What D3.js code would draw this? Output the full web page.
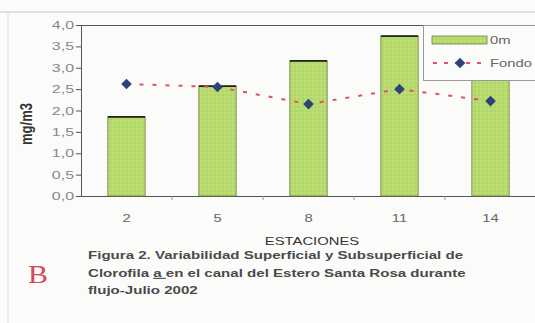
<!DOCTYPE html>
<html>
<head>
<meta charset="utf-8">
<script src="https://cdn.jsdelivr.net/npm/d3@7"></script>
<style>
  html, body { margin: 0; padding: 0; background: #fbfbf9; }
  svg { display: block; }
</style>
</head>
<body>
<svg id="chart" width="535" height="323"></svg>
<script>
// Stations sampled along the channel
const estaciones = ["2", "5", "8", "11", "14"];
// Chlorophyll a at the surface (0 m), mg/m3
const superficie = [1.85, 2.57, 3.16, 3.74, 2.75];
// Chlorophyll a near the bottom, mg/m3
const fondo = [2.62, 2.55, 2.15, 2.50, 2.22];
// Y axis ticks
const yTicks = [0, 0.5, 1, 1.5, 2, 2.5, 3, 3.5, 4];

const svg = d3.select("#chart");
const plotLeft = 81, plotRight = 536, plotTop = 25, plotBottom = 196;
const font = "Liberation Sans, Arial, sans-serif";
const wide = 1.35; // horizontal text stretch of the printed figure

// Figure frame lines
svg.append("line").attr("x1", 0).attr("x2", 535).attr("y1", 12).attr("y2", 12)
  .attr("stroke", "#c8c8c8").attr("stroke-width", 1);
svg.append("line").attr("x1", 8).attr("x2", 8).attr("y1", 12).attr("y2", 323)
  .attr("stroke", "#e0e0e0").attr("stroke-width", 1);

const x = d3.scaleBand().domain(estaciones).range([plotLeft, plotRight]).paddingInner(0.59).paddingOuter(0.295);
const xo = d3.scaleBand().domain(estaciones).range([plotLeft, plotRight]);
const y = d3.scaleLinear().domain([0, 4]).range([plotBottom, plotTop]);

const fmt = v => d3.format(".1f")(v).replace(".", ",");

// Plot top border
svg.append("line").attr("x1", plotLeft).attr("x2", plotRight).attr("y1", plotTop + 0.5).attr("y2", plotTop + 0.5)
  .attr("stroke", "#555").attr("stroke-width", 1);

// Y axis
const yAxis = svg.append("g").attr("transform", `translate(${plotLeft},0)`)
  .call(d3.axisLeft(y).tickValues(yTicks).tickFormat(fmt).tickSize(5).tickSizeOuter(0));
yAxis.select(".domain").attr("stroke", "#555");
yAxis.selectAll(".tick line").attr("stroke", "#555");
yAxis.selectAll("text").attr("font-family", font)
  .attr("font-size", 11).attr("fill", "#888").attr("x", -7 / 1.45)
  .attr("transform", "scale(1.45,1)");

// X axis with ticks between categories
const xAxis = svg.append("g").attr("transform", `translate(0,${plotBottom})`);
xAxis.append("line").attr("x1", plotLeft).attr("x2", plotRight).attr("y1", 0.5).attr("y2", 0.5)
  .attr("stroke", "#555");
xAxis.selectAll("line.sep").data(estaciones.slice(1)).join("line").attr("class", "sep")
  .attr("x1", d => xo(d)).attr("x2", d => xo(d)).attr("y1", 0).attr("y2", 4)
  .attr("stroke", "#999");
xAxis.selectAll("text").data(estaciones).join("text")
  .attr("transform", d => `translate(${xo(d) + xo.bandwidth() / 2},26) scale(${wide},1)`)
  .attr("text-anchor", "middle").attr("font-family", font)
  .attr("font-size", 11).attr("fill", "#666").text(d => d);

// Bar texture
const defs = svg.append("defs");
const pat = defs.append("pattern").attr("id", "dots").attr("patternUnits", "userSpaceOnUse")
  .attr("width", 4).attr("height", 4);
pat.append("rect").attr("width", 4).attr("height", 4).attr("fill", "#b7da6c");
pat.append("circle").attr("cx", 1).attr("cy", 1).attr("r", 0.7).attr("fill", "#cde58f");
pat.append("circle").attr("cx", 3).attr("cy", 3).attr("r", 0.7).attr("fill", "#a6cc5a");

// Surface bars
svg.selectAll("rect.bar").data(superficie).join("rect").attr("class", "bar")
  .attr("x", (d, i) => x(estaciones[i]))
  .attr("y", d => y(d))
  .attr("width", x.bandwidth())
  .attr("height", d => plotBottom - y(d))
  .attr("fill", "url(#dots)").attr("stroke", "#6b7a45").attr("stroke-width", 0.8);
svg.selectAll("line.bartop").data(superficie).join("line").attr("class", "bartop")
  .attr("x1", (d, i) => x(estaciones[i])).attr("x2", (d, i) => x(estaciones[i]) + x.bandwidth())
  .attr("y1", d => y(d)).attr("y2", d => y(d))
  .attr("stroke", "#222").attr("stroke-width", 1.6);

// Bottom series: dashed line + diamonds
const cx = (d, i) => xo(estaciones[i]) + xo.bandwidth() / 2;
svg.append("path").datum(fondo)
  .attr("d", d3.line().x(cx).y(d => y(d)))
  .attr("fill", "none").attr("stroke", "#e0506a").attr("stroke-width", 2)
  .attr("stroke-dasharray", "4,9");
const diamond = d3.symbol().type(d3.symbolDiamond2).size(72);
svg.selectAll("path.pt").data(fondo).join("path").attr("class", "pt")
  .attr("transform", (d, i) => `translate(${cx(d, i)},${y(d)})`)
  .attr("d", diamond).attr("fill", "#2e4478");

// Legend
const lg = svg.append("g");
lg.append("rect").attr("x", 423.5).attr("y", 25.5).attr("width", 120).attr("height", 55)
  .attr("fill", "#fbfbf9").attr("stroke", "#999");
lg.append("rect").attr("x", 432).attr("y", 36).attr("width", 55).attr("height", 8)
  .attr("fill", "url(#dots)").attr("stroke", "#6b7a45").attr("stroke-width", 0.8);
lg.append("text").attr("transform", `translate(490,44) scale(${wide},1)`).text("0m")
  .attr("font-family", font).attr("font-size", 11).attr("fill", "#666");
lg.append("line").attr("x1", 433).attr("x2", 487).attr("y1", 63).attr("y2", 63)
  .attr("stroke", "#e0506a").attr("stroke-width", 2).attr("stroke-dasharray", "4,7");
lg.append("path").attr("transform", "translate(460,63)").attr("d", diamond).attr("fill", "#2e4478");
lg.append("text").attr("transform", `translate(490,67) scale(${wide},1)`).text("Fondo")
  .attr("font-family", font).attr("font-size", 11).attr("fill", "#666");

// Axis titles
svg.append("text").attr("transform", "translate(32,124) rotate(-90) scale(1,1.3)")
  .attr("text-anchor", "middle").attr("font-family", font)
  .attr("font-size", 13).attr("font-weight", "bold").attr("fill", "#333").text("mg/m3");
svg.append("text").attr("transform", `translate(312,245) scale(${wide},1)`).attr("text-anchor", "middle")
  .attr("font-family", font).attr("font-size", 11)
  .attr("fill", "#333").text("ESTACIONES");

// Caption
const cap = svg.append("g").attr("transform", "translate(88,0) scale(1.37,1)")
  .append("text").attr("font-family", font)
  .attr("font-size", 11).attr("font-weight", "bold").attr("fill", "#4a4a4a");
cap.append("tspan").attr("x", 0).attr("y", 259).text("Figura 2. Variabilidad Superficial y Subsuperficial de");
cap.append("tspan").attr("x", 0).attr("y", 277).text("Clorofila ");
cap.append("tspan").attr("text-decoration", "underline").text("a ");
cap.append("tspan").text("en el canal del Estero Santa Rosa durante");
cap.append("tspan").attr("x", 0).attr("y", 294).text("flujo-Julio 2002");

svg.append("text").attr("transform", "translate(28,283) scale(1.2,1)")
  .attr("font-family", "Liberation Serif, Times New Roman, serif").attr("font-size", 25)
  .attr("fill", "#d9475c").text("B");
</script>
</body>
</html>
